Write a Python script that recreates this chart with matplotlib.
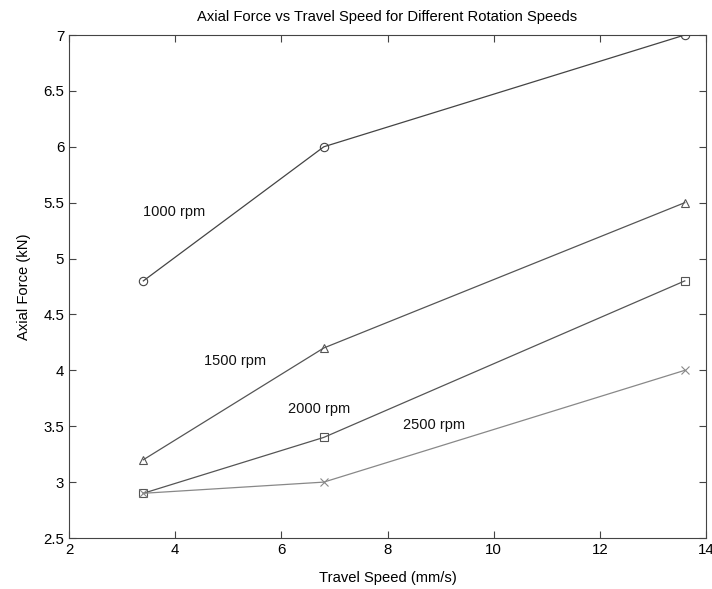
import matplotlib
matplotlib.use("Agg")
import matplotlib.pyplot as plt

travel_speed = [3.4, 6.8, 13.6]
force_1000 = [4.8, 6.0, 7.0]
force_1500 = [3.2, 4.2, 5.5]
force_2000 = [2.9, 3.4, 4.8]
force_2500 = [2.9, 3.0, 4.0]
series_labels = ["1000 rpm", "1500 rpm", "2000 rpm", "2500 rpm"]
label_pos = [(3.39, 5.416), (4.54, 4.08), (6.13, 3.654), (8.29, 3.51)]

plt.rcParams['font.family'] = ['Liberation Sans', 'DejaVu Sans']

fig = plt.figure(figsize=(7.12, 5.89), dpi=100)
ax = fig.add_axes([69 / 712, 51 / 589, 637 / 712, 503 / 589])

series = [force_1000, force_1500, force_2000, force_2500]
markers = ['o', '^', 's', 'x']
colors = ['#444444', '#555555', '#555555', '#888888']
for ys, m, c in zip(series, markers, colors):
    ax.plot(travel_speed, ys, color=c, lw=0.9, marker=m, markersize=6,
            markerfacecolor='none', markeredgecolor=c, markeredgewidth=0.8)

for lab, (x, y) in zip(series_labels, label_pos):
    ax.text(x, y, lab, fontsize=10.5, color='#111111', va='center', ha='left')

ax.set_xlim(2, 14)
ax.set_ylim(2.5, 7)
ax.set_xticks([2, 4, 6, 8, 10, 12, 14])
ax.set_yticks([2.5, 3, 3.5, 4, 4.5, 5, 5.5, 6, 6.5, 7])
ax.set_yticklabels(['2.5', '3', '3.5', '4', '4.5', '5', '5.5', '6', '6.5', '7'])
ax.tick_params(direction='in', top=True, right=True, labelsize=10.8, length=5, color='#444444')
for s in ax.spines.values():
    s.set_color('#444444')
    s.set_linewidth(0.8)

ax.set_xlabel('Travel Speed (mm/s)', fontsize=10.6, labelpad=10)
ax.set_ylabel('Axial Force (kN)', fontsize=10.6, labelpad=9)
ax.set_title('Axial Force vs Travel Speed for Different Rotation Speeds', fontsize=10.6, pad=10)

fig.savefig('out.png', dpi=100)
